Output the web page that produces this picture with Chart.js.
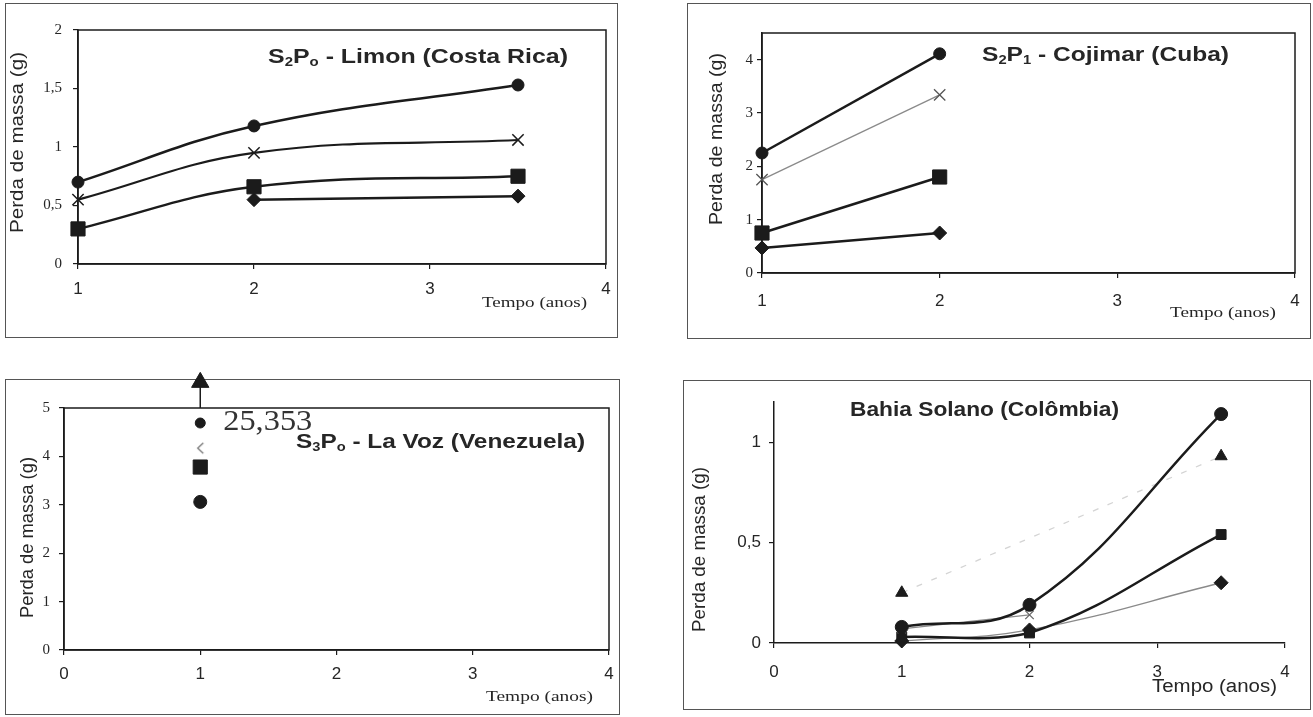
<!DOCTYPE html>
<html>
<head>
<meta charset="utf-8">
<script src="https://cdn.jsdelivr.net/npm/chart.js@4.4.1/dist/chart.umd.min.js"></script>
<style>
  body { margin: 0; background: #fff; width: 1313px; height: 717px; position: relative; overflow: hidden; }
  .box { position: absolute; border: 1.5px solid #555; box-sizing: border-box; }
  canvas { position: absolute; }
</style>
</head>
<body>
<script>
// ===== Data =====

// S2Po - Limon (Costa Rica)
const limonYears = [1, 2, 3.5];
const limonCircle = [0.70, 1.18, 1.53];
const limonCross = [0.55, 0.95, 1.06];
const limonSquare = [0.30, 0.66, 0.75];
const limonDiamond = [null, 0.55, 0.58];
const limonXTicks = [1, 2, 3, 4];
const limonYTicks = [0, 0.5, 1, 1.5, 2];

// S2P1 - Cojimar (Cuba)
const cojimarYears = [1, 2];
const cojimarCircle = [2.25, 4.11];
const cojimarCross = [1.75, 3.34];
const cojimarSquare = [0.75, 1.80];
const cojimarDiamond = [0.47, 0.75];
const cojimarXTicks = [1, 2, 3, 4];
const cojimarYTicks = [0, 1, 2, 3, 4];

// S3Po - La Voz (Venezuela)
const lavozYears = [1];
const lavozCircleHigh = [4.69];
const lavozCross = [4.17];
const lavozSquare = [3.78];
const lavozCircleLow = [3.06];
const lavozArrowX = [1, 1];
const lavozArrowY = [5, 5.53];     // off-scale marker, real value in the label
const lavozOffScaleLabel = '25,353';
const lavozXTicks = [0, 1, 2, 3, 4];
const lavozYTicks = [0, 1, 2, 3, 4, 5];

// Bahia Solano (Colômbia)
const bahiaYears = [1, 2, 3.5];
const bahiaCircle = [0.08, 0.19, 1.14];
const bahiaCross = [0.07, 0.14, null];
const bahiaTriangle = [0.25, null, 0.93];
const bahiaSquare = [0.03, 0.05, 0.54];
const bahiaDiamond = [0.01, 0.065, 0.30];
const bahiaXTicks = [0, 1, 2, 3, 4];
const bahiaYTicks = [0, 0.5, 1];

// ===== Styling helpers =====
const SERIF = '"Liberation Serif", "Times New Roman", serif';
const SANS = '"Liberation Sans", Arial, sans-serif';
const INK = '#1b1b1b';
const TXT = '#262626';
const GREY = '#8a8a8a';
const MARGIN = 14;   // canvas overhang around each box

const PANEL_TEXT = {};

function pts(xs, ys) {
    return xs.map((x, i) => ({ x: x, y: ys[i] }));
}

function series(xs, ys, style, extra) {
    return Object.assign({
        data: pts(xs, ys),
        pointStyle: style,
        borderColor: INK,
        backgroundColor: INK,
        pointBackgroundColor: INK,
        pointBorderColor: INK,
        borderWidth: 2.5,
        pointRadius: 6,
        pointBorderWidth: 1,
        tension: 0.4,
        clip: false
    }, extra || {});
}

function chevron(size, color) {
    const c = document.createElement('canvas');
    c.width = size; c.height = size;
    const g = c.getContext('2d');
    g.strokeStyle = color;
    g.lineWidth = 1.3;
    g.beginPath();
    g.moveTo(size * 0.72, size * 0.12);
    g.lineTo(size * 0.32, size * 0.5);
    g.lineTo(size * 0.72, size * 0.88);
    g.stroke();
    return c;
}

const comma = v => String(v).replace('.', ',');

// draws text stretched to a target length (scan is wider than the fonts)
function drawStretched(chart, it, ox, oy) {
    const ctx = chart.ctx;
    const size = it.size;
    const subSize = Math.round(size * 0.62);
    const weight = it.weight || 'normal';
    const parts = it.parts;
    ctx.save();
    let natural = 0;
    parts.forEach(p => {
        ctx.font = weight + ' ' + (p[1] ? subSize : size) + 'px ' + it.family;
        natural += ctx.measureText(p[0]).width;
    });
    let cx, cy, len;
    if (it.at) {
        const xs = chart.scales.x, ys = chart.scales.y;
        const left = xs.getPixelForValue(it.at[0]) + it.dx;
        len = it.w;
        cx = left + len / 2;
        cy = ys.getPixelForValue(it.at[1]) + (it.dy || 0);
    } else if (it.rot) {
        cx = it.x - ox;
        cy = (it.y0 + it.y1) / 2 - oy;
        len = it.y1 - it.y0;
    } else {
        cx = (it.x0 + it.x1) / 2 - ox;
        cy = it.y - oy;
        len = it.x1 - it.x0;
    }
    ctx.translate(cx, cy);
    if (it.rot) ctx.rotate(-Math.PI / 2);
    ctx.scale(len / natural, 1);
    ctx.fillStyle = it.color || TXT;
    ctx.textBaseline = 'middle';
    ctx.textAlign = 'left';
    let x = -natural / 2;
    parts.forEach(p => {
        ctx.font = weight + ' ' + (p[1] ? subSize : size) + 'px ' + it.family;
        ctx.fillText(p[0], x, p[1] ? size * 0.28 : 0);
        x += ctx.measureText(p[0]).width;
    });
    ctx.restore();
}

const framePlugin = {
    id: 'plotFrame',
    beforeDatasetsDraw(chart) {
        const cfg = PANEL_TEXT[chart.canvas.id];
        if (!cfg.frame) return;
        const a = chart.chartArea;
        const ctx = chart.ctx;
        ctx.save();
        ctx.strokeStyle = INK;
        ctx.lineWidth = 1.5;
        ctx.strokeRect(a.left, a.top, a.right - a.left, a.bottom - a.top);
        ctx.restore();
    }
};

// points outside the chart area are skipped by Chart.js, so the off-scale
// arrow head is drawn here, still placed through the scales
const arrowHeadPlugin = {
    id: 'arrowHead',
    afterDatasetsDraw(chart) {
        const cfg = PANEL_TEXT[chart.canvas.id];
        if (!cfg.head) return;
        const h = cfg.head;
        const x = chart.scales.x.getPixelForValue(h.x);
        const y = chart.scales.y.getPixelForValue(h.y);
        const ctx = chart.ctx;
        ctx.save();
        ctx.fillStyle = INK;
        ctx.strokeStyle = INK;
        ctx.lineWidth = 1;
        Chart.helpers.drawPoint(ctx, { pointStyle: 'triangle', radius: h.r, borderWidth: 1, rotation: 0 }, x, y);
        ctx.restore();
    }
};

const textPlugin = {
    id: 'panelText',
    afterDraw(chart) {
        const cfg = PANEL_TEXT[chart.canvas.id];
        cfg.items.forEach(it => drawStretched(chart, it, cfg.ox, cfg.oy));
    }
};

function makePanel(p) {
    const [bx0, by0, bx1, by1] = p.box;
    const [ax0, ay0, ax1, ay1] = p.area;
    const cx0 = bx0 - MARGIN, cy0 = by0 - MARGIN;
    const cw = bx1 - bx0 + 2 * MARGIN, ch = by1 - by0 + 2 * MARGIN;

    const border = document.createElement('div');
    border.className = 'box';
    border.style.left = bx0 + 'px';
    border.style.top = by0 + 'px';
    border.style.width = (bx1 - bx0) + 'px';
    border.style.height = (by1 - by0) + 'px';
    document.body.appendChild(border);

    const canvas = document.createElement('canvas');
    canvas.id = p.id;
    canvas.width = cw;
    canvas.height = ch;
    canvas.style.left = cx0 + 'px';
    canvas.style.top = cy0 + 'px';
    document.body.appendChild(canvas);

    PANEL_TEXT[p.id] = { items: p.texts, ox: cx0, oy: cy0, frame: p.frame, head: p.head };

    new Chart(canvas, {
        type: 'line',
        data: { datasets: p.datasets },
        options: {
            responsive: false,
            animation: false,
            events: [],
            layout: { padding: { left: 0, top: ay0 - cy0, right: cx0 + cw - ax1, bottom: 0 } },
            plugins: { legend: { display: false }, tooltip: { enabled: false } },
            scales: {
                x: {
                    type: 'linear',
                    min: p.xTicks[0],
                    max: p.xTicks[p.xTicks.length - 1],
                    afterBuildTicks: s => { s.ticks = p.xTicks.map(v => ({ value: v })); },
                    afterFit: s => { s.height = cy0 + ch - ay1; },
                    grid: { drawOnChartArea: false, tickLength: 5, color: INK, lineWidth: 1.2 },
                    border: { color: INK, width: 1.5 },
                    ticks: { font: p.xFont, color: TXT, padding: p.xPad, callback: comma }
                },
                y: {
                    type: 'linear',
                    min: 0,
                    max: p.yMax,
                    afterBuildTicks: s => { s.ticks = p.yTicks.map(v => ({ value: v })); },
                    afterFit: s => { s.width = ax0 - cx0; },
                    grid: { drawOnChartArea: false, tickLength: 5, color: INK, lineWidth: 1.2 },
                    border: { color: INK, width: 1.5 },
                    ticks: { font: p.yFont, color: TXT, padding: p.yPad, callback: comma }
                }
            }
        },
        plugins: [framePlugin, arrowHeadPlugin, textPlugin]
    });
}

const yTitle = (x, y0, y1) => ({ parts: [['Perda de massa (g)']], rot: true, x: x, y0: y0, y1: y1, size: 19, family: SANS });

// ===== Panels =====
makePanel({
    id: 'limon',
    box: [5, 3, 618, 338],
    area: [78, 30, 606, 264],
    yMax: 2,
    xTicks: limonXTicks, yTicks: limonYTicks,
    xFont: { family: SANS, size: 17 }, yFont: { family: SERIF, size: 15 },
    xPad: 10, yPad: 11,
    frame: true,
    datasets: [
        series(limonYears, limonCircle, 'circle'),
        series(limonYears, limonCross, 'crossRot', { borderWidth: 2.2, pointRadius: 8, pointBorderWidth: 1.5 }),
        series(limonYears, limonSquare, 'rect', { pointRadius: 10 }),
        series(limonYears, limonDiamond, 'rectRot', { pointRadius: 7 })
    ],
    texts: [
        { parts: [['S'], ['2', 1], ['P'], ['o', 1], [' - Limon (Costa Rica)']], x0: 268, x1: 568, y: 57, size: 20, weight: 'bold', family: SANS },
        { parts: [['Tempo (anos)']], x0: 482, x1: 587, y: 303, size: 15, family: SERIF },
        yTitle(18, 52, 233)
    ]
});

makePanel({
    id: 'cojimar',
    box: [687, 3, 1311, 339],
    area: [762, 33, 1295, 273],
    yMax: 4.5,
    xTicks: cojimarXTicks, yTicks: cojimarYTicks,
    xFont: { family: SANS, size: 17 }, yFont: { family: SERIF, size: 15 },
    xPad: 13, yPad: 4,
    frame: true,
    datasets: [
        series(cojimarYears, cojimarCircle, 'circle', { tension: 0 }),
        series(cojimarYears, cojimarCross, 'crossRot', { tension: 0, borderColor: GREY, borderWidth: 1.3, pointRadius: 8, pointBorderColor: '#555', pointBorderWidth: 1.3 }),
        series(cojimarYears, cojimarSquare, 'rect', { tension: 0, pointRadius: 10 }),
        series(cojimarYears, cojimarDiamond, 'rectRot', { tension: 0, pointRadius: 7 })
    ],
    texts: [
        { parts: [['S'], ['2', 1], ['P'], ['1', 1], [' - Cojimar (Cuba)']], x0: 982, x1: 1229, y: 55, size: 20, weight: 'bold', family: SANS },
        { parts: [['Tempo (anos)']], x0: 1170, x1: 1276, y: 313, size: 15, family: SERIF },
        yTitle(717, 53, 225)
    ]
});

makePanel({
    id: 'lavoz',
    box: [5, 379, 620, 715],
    area: [64, 408, 609, 650],
    yMax: 5,
    xTicks: lavozXTicks, yTicks: lavozYTicks,
    xFont: { family: SANS, size: 17 }, yFont: { family: SERIF, size: 15 },
    xPad: 9, yPad: 9,
    frame: true,
    head: { x: lavozArrowX[1], y: lavozArrowY[1], r: 10 },
    datasets: [
        series(lavozArrowX, lavozArrowY, 'triangle', { tension: 0, borderWidth: 1.5, pointRadius: 0 }),
        series(lavozYears, lavozCircleHigh, 'circle', { pointRadius: 5 }),
        series(lavozYears, lavozCross, chevron(14, '#777')),
        series(lavozYears, lavozSquare, 'rect', { pointRadius: 10 }),
        series(lavozYears, lavozCircleLow, 'circle', { pointRadius: 6.5 })
    ],
    texts: [
        { parts: [[lavozOffScaleLabel]], at: [lavozYears[0], lavozCircleHigh[0]], dx: 23, w: 89, dy: -1, size: 30, family: SERIF, color: '#333' },
        { parts: [['S'], ['3', 1], ['P'], ['o', 1], [' - La Voz (Venezuela)']], x0: 296, x1: 585, y: 442, size: 20, weight: 'bold', family: SANS },
        { parts: [['Tempo (anos)']], x0: 486, x1: 593, y: 697, size: 15, family: SERIF },
        yTitle(28, 457, 618)
    ]
});

makePanel({
    id: 'bahia',
    box: [683, 380, 1311, 710],
    area: [774, 402, 1285, 643],
    yMax: 1.2,
    xTicks: bahiaXTicks, yTicks: bahiaYTicks,
    xFont: { family: SANS, size: 17 }, yFont: { family: SANS, size: 17 },
    xPad: 14, yPad: 8,
    frame: false,
    datasets: [
        series(bahiaYears, bahiaCircle, 'circle', { pointRadius: 6.5 }),
        series(bahiaYears, bahiaCross, 'crossRot', { borderColor: GREY, borderWidth: 1.3, pointRadius: 6, pointBorderColor: '#666', pointBorderWidth: 1.3 }),
        series(bahiaYears, bahiaTriangle, 'triangle', { borderColor: '#d4d4d4', borderWidth: 1.3, borderDash: [6, 10], spanGaps: true, pointRadius: 7 }),
        series(bahiaYears, bahiaSquare, 'rect', { pointRadius: 7 }),
        series(bahiaYears, bahiaDiamond, 'rectRot', { borderColor: GREY, borderWidth: 1.3, pointRadius: 7 })
    ],
    texts: [
        { parts: [['Bahia Solano (Colômbia)']], x0: 850, x1: 1119, y: 410, size: 20, weight: 'bold', family: SANS },
        { parts: [['Tempo (anos)']], x0: 1152, x1: 1277, y: 687, size: 18, family: SANS },
        yTitle(700, 467, 632)
    ]
});
</script>
</body>
</html>
